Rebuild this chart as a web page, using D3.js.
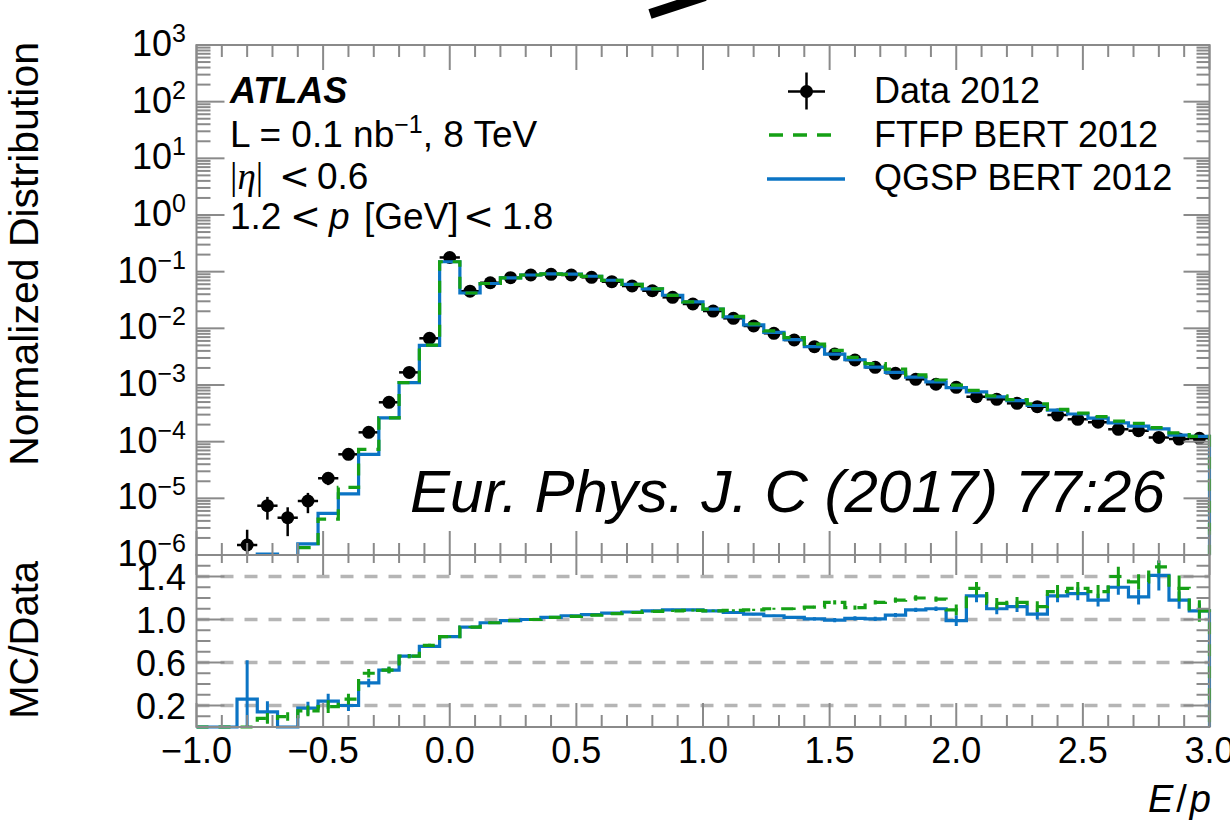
<!DOCTYPE html>
<html>
<head>
<meta charset="utf-8">
<script src="https://cdn.jsdelivr.net/npm/d3@7"></script>
<style>
  html, body { margin: 0; padding: 0; background: #ffffff; }
  svg { display: block; }
  text { font-family: "Liberation Sans", Arial, Helvetica, sans-serif; fill: #000; }
</style>
</head>
<body>
<svg id="chart" width="1230" height="822"></svg>
<script>
// ---- E/p binning: 50 bins of width 0.08 between -1 and 3 ----
const binWidth = 0.08;
const binCenters = [
  -0.96, -0.88, -0.80, -0.72, -0.64, -0.56, -0.48, -0.40, -0.32, -0.24,
  -0.16, -0.08,  0.00,  0.08,  0.16,  0.24,  0.32,  0.40,  0.48,  0.56,
   0.64,  0.72,  0.80,  0.88,  0.96,  1.04,  1.12,  1.20,  1.28,  1.36,
   1.44,  1.52,  1.60,  1.68,  1.76,  1.84,  1.92,  2.00,  2.08,  2.16,
   2.24,  2.32,  2.40,  2.48,  2.56,  2.64,  2.72,  2.80,  2.88,  2.96
];

// ---- Data 2012: normalized distribution and its uncertainty ----
const dataValues = [
  null, null, 1.50e-6, 7.41e-6, 4.55e-6, 8.97e-6, 2.26e-5, 5.98e-5, 1.46e-4, 4.95e-4,
  1.67e-3, 6.67e-3, 0.178, 0.0452, 0.0638, 0.0782, 0.0873, 0.0898, 0.0873, 0.0794,
  0.0665, 0.0558, 0.0461, 0.0352, 0.0269, 0.0202, 0.0150, 0.0110, 0.00817, 0.00622,
  0.00474, 0.00352, 0.00276, 0.00205, 0.00161, 0.00126, 0.00103, 0.000910, 0.000621, 0.000559,
  0.000475, 0.000414, 0.000295, 0.000248, 0.000220, 0.000165, 0.000156, 0.000119, 0.000111, 0.000115
];
const dataErrors = [
  null, null, 1.3e-6, 3.2e-6, 2.4e-6, 3.5e-6, 5.5e-6, 9e-6, 1.4e-5, 2.6e-5,
  4.8e-5, 9.6e-5, 5e-4, 2.5e-4, 3e-4, 3.3e-4, 3.5e-4, 3.5e-4, 3.5e-4, 3.3e-4,
  3e-4, 2.8e-4, 2.5e-4, 2.2e-4, 1.9e-4, 1.7e-4, 1.4e-4, 1.2e-4, 1.1e-4, 9e-5,
  8e-5, 7e-5, 6e-5, 5.4e-5, 4.7e-5, 4.2e-5, 3.8e-5, 3.6e-5, 2.9e-5, 2.8e-5,
  2.6e-5, 2.4e-5, 2e-5, 1.9e-5, 1.8e-5, 1.5e-5, 1.5e-5, 1.3e-5, 1.2e-5, 1.3e-5
];

// ---- MC / Data ratios ----
const ratioFTFP = [
  0, 0, 0, 0.08, 0.097, 0.15, 0.19, 0.26, 0.50, 0.53,
  0.66, 0.76, 0.84, 0.93, 0.97, 0.99, 1.00, 1.02, 1.03, 1.04,
  1.055, 1.065, 1.075, 1.08, 1.085, 1.08, 1.085, 1.09, 1.10, 1.10,
  1.115, 1.16, 1.11, 1.16, 1.18, 1.20, 1.19, 1.09, 1.29, 1.15,
  1.16, 1.12, 1.26, 1.29, 1.26, 1.40, 1.35, 1.49, 1.29, 1.08
];
const ratioFTFPErr = [
  0, 0, 0, 0.05, 0.04, 0.05, 0.06, 0.05, 0.04, 0.03,
  0.02, 0.015, 0.01, 0.01, 0.01, 0.01, 0.01, 0.01, 0.01, 0.01,
  0.01, 0.01, 0.01, 0.01, 0.01, 0.01, 0.01, 0.01, 0.01, 0.012,
  0.015, 0.02, 0.02, 0.02, 0.025, 0.025, 0.025, 0.05, 0.06, 0.05,
  0.05, 0.05, 0.06, 0.06, 0.06, 0.09, 0.07, 0.06, 0.12, 0.10
];
const ratioQGSP = [
  0, 0, 0.26, 0.14, 0, 0.175, 0.24, 0.20, 0.41, 0.53,
  0.66, 0.75, 0.84, 0.93, 0.97, 0.99, 1.00, 1.02, 1.035, 1.045,
  1.06, 1.07, 1.08, 1.09, 1.09, 1.08, 1.065, 1.05, 1.035, 1.02,
  1.005, 0.995, 1.01, 1.005, 1.04, 1.09, 1.10, 0.99, 1.22, 1.10,
  1.12, 1.05, 1.22, 1.24, 1.18, 1.30, 1.21, 1.41, 1.18, 1.08
];
const ratioQGSPErr = [
  0, 0, 0.36, 0.10, 0, 0.06, 0.07, 0.05, 0.04, 0.03,
  0.02, 0.015, 0.01, 0.01, 0.01, 0.01, 0.01, 0.01, 0.01, 0.01,
  0.01, 0.01, 0.01, 0.01, 0.01, 0.01, 0.01, 0.01, 0.01, 0.012,
  0.015, 0.02, 0.02, 0.02, 0.02, 0.02, 0.02, 0.05, 0.06, 0.05,
  0.05, 0.05, 0.06, 0.06, 0.06, 0.07, 0.07, 0.14, 0.08, 0.07
];

// ---- Axis tick labels ----
const xTickValues = [-1, -0.5, 0, 0.5, 1, 1.5, 2, 2.5, 3];
const xTickLabels = ["\u22121.0", "\u22120.5", "0.0", "0.5", "1.0", "1.5", "2.0", "2.5", "3.0"];
const yMainExponents = [3, 2, 1, 0, -1, -2, -3, -4, -5, -6];
const ratioTickValues = [0.2, 0.6, 1.0, 1.4];
const ratioTickLabels = ["0.2", "0.6", "1.0", "1.4"];
const legendLabels = ["Data 2012", "FTFP BERT 2012", "QGSP BERT 2012"];

// ---- Layout and style ----
const left = 196.5, right = 1209.5;
const mainTop = 45, mainBottom = 555;
const ratioTop = 555, ratioBottom = 727;
const frameColor = "#8a8a8a";
const gridColor = "#b5b5b5";
const qgspColor = "#0b74c4";
const ftfpColor = "#15a015";
const serif = "'Liberation Serif', 'DejaVu Serif', serif";
const mathSans = "'DejaVu Sans', sans-serif";

const svg = d3.select("#chart");

const x = d3.scaleLinear().domain([-1, 3]).range([left, right]);
const yMain = d3.scaleLog().domain([1e-6, 1e3]).range([mainBottom, mainTop]);
const yRatio = d3.scaleLinear().domain([0, 1.6]).range([ratioBottom, ratioTop]);

// MC predictions in the upper panel follow from data times ratio
const mcFTFP = dataValues.map((v, i) => (v == null ? 0 : v * ratioFTFP[i]));
const mcQGSP = dataValues.map((v, i) => (v == null ? 0 : v * ratioQGSP[i]));

const defs = svg.append("defs");
defs.append("clipPath").attr("id", "clipMain")
  .append("rect").attr("x", left - 2).attr("y", mainTop).attr("width", right - left + 4).attr("height", mainBottom - mainTop);
defs.append("clipPath").attr("id", "clipRatio")
  .append("rect").attr("x", left - 2).attr("y", ratioTop).attr("width", right - left + 4).attr("height", ratioBottom - ratioTop + 2);

// step outline of a histogram, starting and ending at the baseline
function stepPath(values, yFn, base) {
  const p = d3.path();
  p.moveTo(x(-1), base);
  values.forEach((v, i) => {
    const lo = x(binCenters[i] - binWidth / 2), hi = x(binCenters[i] + binWidth / 2);
    const yy = yFn(v);
    p.lineTo(lo, yy);
    p.lineTo(hi, yy);
  });
  p.lineTo(x(3), base);
  return p.toString();
}
const yMainSafe = v => (v > 0 ? yMain(v) : mainBottom + 30);

// ================= upper panel =================
const gMain = svg.append("g").attr("clip-path", "url(#clipMain)");

// data points with error bars
const pts = binCenters.map((c, i) => ({ c, v: dataValues[i], e: dataErrors[i] })).filter(d => d.v != null);
const gData = gMain.append("g");
gData.selectAll("line.xerr").data(pts).join("line")
  .attr("x1", d => x(d.c - binWidth / 2)).attr("x2", d => x(d.c + binWidth / 2))
  .attr("y1", d => yMain(d.v)).attr("y2", d => yMain(d.v))
  .attr("stroke", "#000").attr("stroke-width", 2.5);
gData.selectAll("line.yerr").data(pts).join("line")
  .attr("x1", d => x(d.c)).attr("x2", d => x(d.c))
  .attr("y1", d => (d.v - d.e > 0 ? yMain(d.v - d.e) : mainBottom + 5))
  .attr("y2", d => yMain(d.v + d.e))
  .attr("stroke", "#000").attr("stroke-width", 2.5);
gData.selectAll("circle").data(pts).join("circle")
  .attr("cx", d => x(d.c)).attr("cy", d => yMain(d.v)).attr("r", 6.5)
  .attr("fill", "#000");

gMain.append("path").attr("d", stepPath(mcQGSP, yMainSafe, mainBottom + 30))
  .attr("fill", "none").attr("stroke", qgspColor).attr("stroke-width", 3.2);
gMain.append("path").attr("d", stepPath(mcFTFP, yMainSafe, mainBottom + 30))
  .attr("fill", "none").attr("stroke", ftfpColor).attr("stroke-width", 3.2)
  .attr("stroke-dasharray", "12,10");

// ================= ratio panel =================
const gRatio = svg.append("g");
gRatio.selectAll("line.grid").data(ratioTickValues).join("line")
  .attr("x1", left).attr("x2", right)
  .attr("y1", d => yRatio(d)).attr("y2", d => yRatio(d))
  .attr("stroke", gridColor).attr("stroke-width", 3.5).attr("stroke-dasharray", "13,11");

const gRatioPlot = svg.append("g").attr("clip-path", "url(#clipRatio)");
function ratioErrors(g, vals, errs, color) {
  const d = binCenters.map((c, i) => ({ c, v: vals[i], e: errs[i] })).filter(p => p.e > 0);
  g.append("g").selectAll("line").data(d).join("line")
    .attr("x1", p => x(p.c)).attr("x2", p => x(p.c))
    .attr("y1", p => yRatio(Math.max(0, p.v - p.e))).attr("y2", p => yRatio(p.v + p.e))
    .attr("stroke", color).attr("stroke-width", 3);
}
gRatioPlot.append("path").attr("d", stepPath(ratioQGSP, yRatio, yRatio(0)))
  .attr("fill", "none").attr("stroke", qgspColor).attr("stroke-width", 3.2);
ratioErrors(gRatioPlot, ratioQGSP, ratioQGSPErr, qgspColor);
gRatioPlot.append("path").attr("d", stepPath(ratioFTFP, yRatio, yRatio(0)))
  .attr("fill", "none").attr("stroke", ftfpColor).attr("stroke-width", 3.2)
  .attr("stroke-dasharray", "12,10");
ratioErrors(gRatioPlot, ratioFTFP, ratioFTFPErr, ftfpColor);

// ================= frames and ticks =================
const gAxes = svg.append("g").attr("stroke", frameColor).attr("stroke-width", 2).attr("fill", "none");
gAxes.append("rect").attr("x", left).attr("y", mainTop).attr("width", right - left).attr("height", mainBottom - mainTop);
gAxes.append("rect").attr("x", left).attr("y", ratioTop).attr("width", right - left).attr("height", ratioBottom - ratioTop);

function tick(x1, y1, x2, y2) {
  gAxes.append("line").attr("x1", x1).attr("y1", y1).attr("x2", x2).attr("y2", y2);
}
x.ticks(40).forEach(v => {
  const isMajor = xTickValues.some(m => Math.abs(m - v) < 1e-9);
  const xx = x(v);
  // upper panel: top edge (down) and bottom edge (up)
  tick(xx, mainTop, xx, mainTop + (isMajor ? 25 : 12));
  tick(xx, mainBottom, xx, mainBottom - (isMajor ? 24 : 12));
  // ratio panel: top edge (down) and bottom edge (up)
  tick(xx, ratioTop, xx, ratioTop + (isMajor ? 20 : 8));
  tick(xx, ratioBottom, xx, ratioBottom - (isMajor ? 24 : 12));
});
// log axis: decades and 2..9 sub-ticks
for (let k = -6; k <= 3; k++) {
  for (let m = 1; m <= 9; m++) {
    const v = m * Math.pow(10, k);
    if (v > 1e3 * 1.0001) continue;
    const yy = yMain(v);
    tick(left, yy, left + (m === 1 ? 28 : 14), yy);
    tick(right, yy, right - (m === 1 ? 26 : 13), yy);
  }
}
// ratio axis: 0.1 sub-ticks, labelled every 0.4
yRatio.ticks(16).forEach(v => {
  const isMajor = ratioTickValues.some(m => Math.abs(m - v) < 1e-9);
  const yy = yRatio(v);
  tick(left, yy, left + (isMajor ? 28 : 14), yy);
  tick(right, yy, right - (isMajor ? 26 : 13), yy);
});

// ================= tick labels =================
const labelSize = 36;
svg.append("g").selectAll("text").data(xTickValues).join("text")
  .attr("x", d => x(d)).attr("y", 763)
  .attr("text-anchor", "middle").attr("font-size", labelSize)
  .text((d, i) => xTickLabels[i]);

const yLab = svg.append("g").selectAll("text").data(yMainExponents).join("text")
  .attr("x", 186).attr("y", d => yMain(Math.pow(10, d)) + 11)
  .attr("text-anchor", "end").attr("font-size", labelSize);
yLab.append("tspan").text("10");
yLab.append("tspan").attr("dy", -14).attr("font-size", 25)
  .text(d => (d < 0 ? "\u2212" + Math.abs(d) : String(d)));

svg.append("g").selectAll("text").data(ratioTickValues).join("text")
  .attr("x", 186).attr("y", d => yRatio(d) + 13)
  .attr("text-anchor", "end").attr("font-size", labelSize)
  .text((d, i) => ratioTickLabels[i]);

// axis titles
svg.append("text").attr("transform", "translate(38,42) rotate(-90)")
  .attr("text-anchor", "end").attr("font-size", 41).text("Normalized Distribution");
svg.append("text").attr("transform", "translate(38,561) rotate(-90)")
  .attr("text-anchor", "end").attr("font-size", 40).text("MC/Data");
const xTitle = svg.append("text").attr("x", 1211).attr("y", 812)
  .attr("text-anchor", "end").attr("font-size", 38);
xTitle.append("tspan").attr("font-style", "italic").text("E");
xTitle.append("tspan").attr("dx", 3).text("/");
xTitle.append("tspan").attr("dx", 3).attr("font-style", "italic").text("p");

// ================= annotations =================
svg.append("text").attr("x", 230).attr("y", 102.5).attr("font-size", 36)
  .attr("font-weight", "bold").attr("font-style", "italic").text("ATLAS");

const lumi = svg.append("text").attr("x", 230).attr("y", 147).attr("font-size", 37);
lumi.append("tspan").text("L = 0.1 nb");
lumi.append("tspan").attr("dy", -14).attr("font-size", 25).text("\u22121");
lumi.append("tspan").attr("dy", 14).text(", 8 TeV");

// math-style symbols: serif bars and eta, wide relation sign
const eta = svg.append("text").attr("y", 188.5).attr("font-size", 37);
eta.append("tspan").attr("x", 230).attr("font-family", serif).text("|");
eta.append("tspan").attr("font-family", serif).attr("font-style", "italic").text("\u03b7");
eta.append("tspan").attr("font-family", serif).text("|");
eta.append("tspan").attr("x", 279).attr("font-family", mathSans).text("<");
eta.append("tspan").attr("x", 317).text("0.6");

const mom = svg.append("text").attr("y", 229).attr("font-size", 37);
mom.append("tspan").attr("x", 230).text("1.2");
mom.append("tspan").attr("x", 290).attr("font-family", mathSans).text("<");
mom.append("tspan").attr("x", 329).attr("font-style", "italic").text("p");
mom.append("tspan").attr("x", 364).text("[GeV]");
mom.append("tspan").attr("x", 463).attr("font-family", mathSans).text("<");
mom.append("tspan").attr("x", 502).text("1.8");

svg.append("text").attr("x", 410).attr("y", 512).attr("font-size", 60)
  .attr("font-style", "italic").text("Eur. Phys. J. C (2017) 77:26");

// ================= legend =================
const legY = [91.5, 135, 179];
const leg = svg.append("g");
leg.append("line").attr("x1", 788).attr("x2", 825).attr("y1", legY[0]).attr("y2", legY[0])
  .attr("stroke", "#000").attr("stroke-width", 2.5);
leg.append("line").attr("x1", 806.5).attr("x2", 806.5).attr("y1", legY[0] - 19).attr("y2", legY[0] + 18)
  .attr("stroke", "#000").attr("stroke-width", 2.5);
leg.append("circle").attr("cx", 806.5).attr("cy", legY[0]).attr("r", 6.5).attr("fill", "#000");
leg.append("line").attr("x1", 769).attr("x2", 831).attr("y1", legY[1]).attr("y2", legY[1])
  .attr("stroke", ftfpColor).attr("stroke-width", 3.5).attr("stroke-dasharray", "14,10");
leg.append("line").attr("x1", 767).attr("x2", 845).attr("y1", legY[2]).attr("y2", legY[2])
  .attr("stroke", qgspColor).attr("stroke-width", 3.5);
leg.selectAll("text").data(legendLabels).join("text")
  .attr("x", 874).attr("y", (d, i) => [103.3, 146.7, 190][i]).attr("font-size", 36).text(d => d);

// stray stroke across the top edge
svg.append("line").attr("x1", 650).attr("y1", 14).attr("x2", 705).attr("y2", -4)
  .attr("stroke", "#000").attr("stroke-width", 10);
</script>
</body>
</html>
